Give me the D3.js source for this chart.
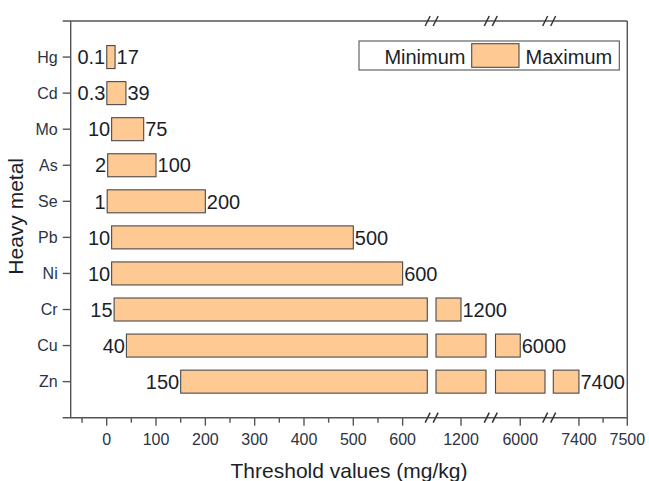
<!DOCTYPE html>
<html>
<head>
<meta charset="utf-8">
<script src="https://cdn.jsdelivr.net/npm/d3@7/dist/d3.min.js"></script>
<style>
  html, body { margin: 0; padding: 0; background: #fff; }
  svg { display: block; font-family: "Liberation Sans", Arial, sans-serif; }
</style>
</head>
<body>
<svg id="chart" width="649" height="481"></svg>
<script>
// ---------------- data ----------------
const metals = ["Hg", "Cd", "Mo", "As", "Se", "Pb", "Ni", "Cr", "Cu", "Zn"];
const minValues = [0.1, 0.3, 10, 2, 1, 10, 10, 15, 40, 150];
const maxValues = [17, 39, 75, 100, 200, 500, 600, 1200, 6000, 7400];
const minLabels = ["0.1", "0.3", "10", "2", "1", "10", "10", "15", "40", "150"];
const maxLabels = ["17", "39", "75", "100", "200", "500", "600", "1200", "6000", "7400"];

// broken x axis: domain of each visible segment
const segmentDomains = [[-75, 650], [1150, 1250], [5950, 6050], [7347, 7500]];
const xMajorTicks = [0, 100, 200, 300, 400, 500, 600, 1200, 6000, 7400, 7500];
const xMinorTicks = [-50, 50, 150, 250, 350, 450, 550, 7450];

const xTitle = "Threshold values (mg/kg)";
const yTitle = "Heavy metal";
const legendLabels = ["Minimum", "Maximum"];

// ---------------- layout ----------------
const svg = d3.select("#chart");
const plot = { left: 70.7, right: 627.3, top: 21, bottom: 417.7 };
const segmentRanges = [[69.7, 427.3], [436, 486], [495.5, 545], [553.3, 627.3]];

const frameColor = "#555";
const barFill = "#FFC994";
const barStroke = "#4a4a4a";
const textColor = "#1b1f2a";
const tickTextColor = "#2c3444";

const segScales = segmentDomains.map((d, i) =>
  d3.scaleLinear().domain(d).range(segmentRanges[i]));

function xPos(v) {
  for (const s of segScales) {
    const [a, b] = s.domain();
    if (v >= a && v <= b) return s(v);
  }
  return null;
}

const y = d3.scalePoint().domain(metals).range([plot.top, plot.bottom]).padding(1);
const barH = 23;

// ---------------- bars ----------------
const gBars = svg.append("g");
metals.forEach((m, i) => {
  const lo = minValues[i], hi = maxValues[i];
  segScales.forEach(s => {
    const [a, b] = s.domain();
    const p0 = Math.max(lo, a), p1 = Math.min(hi, b);
    if (p1 > p0) {
      gBars.append("rect")
        .attr("x", s(p0))
        .attr("y", y(m) - barH / 2)
        .attr("width", s(p1) - s(p0))
        .attr("height", barH)
        .attr("fill", barFill)
        .attr("stroke", barStroke)
        .attr("stroke-width", 1.1);
    }
  });
  // value labels
  svg.append("text")
    .attr("x", xPos(lo) - 1.5)
    .attr("y", y(m))
    .attr("dy", "0.36em")
    .attr("text-anchor", "end")
    .attr("font-size", 20)
    .attr("fill", textColor)
    .text(minLabels[i]);
  svg.append("text")
    .attr("x", xPos(hi) + 1.5)
    .attr("y", y(m))
    .attr("dy", "0.36em")
    .attr("text-anchor", "start")
    .attr("font-size", 20)
    .attr("fill", textColor)
    .text(maxLabels[i]);
});

// ---------------- frame ----------------
const gFrame = svg.append("g").attr("stroke", frameColor).attr("stroke-width", 1.4).attr("fill", "none");
gFrame.append("line").attr("x1", plot.left).attr("x2", plot.left).attr("y1", plot.top).attr("y2", plot.bottom);
gFrame.append("line").attr("x1", plot.right).attr("x2", plot.right).attr("y1", plot.top).attr("y2", plot.bottom);
gFrame.append("line").attr("x1", plot.left - 8).attr("x2", plot.right).attr("y1", plot.top).attr("y2", plot.top);
gFrame.append("line").attr("x1", plot.left - 8).attr("x2", plot.right).attr("y1", plot.bottom).attr("y2", plot.bottom);

// y ticks
metals.forEach(m => {
  gFrame.append("line").attr("x1", plot.left - 8).attr("x2", plot.left).attr("y1", y(m)).attr("y2", y(m));
});
svg.append("g").selectAll("text").data(metals).join("text")
  .attr("x", plot.left - 13)
  .attr("y", d => y(d))
  .attr("dy", "0.36em")
  .attr("text-anchor", "end")
  .attr("font-size", 16)
  .attr("fill", tickTextColor)
  .text(d => d);

// x ticks
xMajorTicks.forEach(t => {
  const px = xPos(t);
  gFrame.append("line").attr("x1", px).attr("x2", px).attr("y1", plot.bottom).attr("y2", plot.bottom + 8);
});
xMinorTicks.forEach(t => {
  const px = xPos(t);
  gFrame.append("line").attr("x1", px).attr("x2", px).attr("y1", plot.bottom).attr("y2", plot.bottom + 5);
});
svg.append("g").selectAll("text").data(xMajorTicks).join("text")
  .attr("x", d => xPos(d))
  .attr("y", plot.bottom + 27)
  .attr("text-anchor", "middle")
  .attr("font-size", 16)
  .attr("fill", tickTextColor)
  .text(d => String(d));

// break marks
const breakCenters = segmentRanges.slice(1).map((r, i) => (segmentRanges[i][1] + r[0]) / 2);
const gBreaks = svg.append("g").attr("stroke", "#333").attr("stroke-width", 1.5);
[plot.top, plot.bottom].forEach(yy => {
  breakCenters.forEach(cx => {
    [-4, 4].forEach(off => {
      gBreaks.append("line")
        .attr("x1", cx + off - 2.5).attr("y1", yy + 5)
        .attr("x2", cx + off + 2.5).attr("y2", yy - 5);
    });
  });
});

// axis titles
svg.append("text")
  .attr("x", (plot.left + plot.right) / 2)
  .attr("y", 477.5)
  .attr("text-anchor", "middle")
  .attr("font-size", 21)
  .attr("fill", textColor)
  .text(xTitle);
svg.append("text")
  .attr("transform", `translate(23,${(plot.top + plot.bottom) / 2 - 3}) rotate(-90)`)
  .attr("text-anchor", "middle")
  .attr("font-size", 21)
  .attr("fill", textColor)
  .text(yTitle);

// legend
const lg = svg.append("g");
lg.append("rect").attr("x", 359).attr("y", 41).attr("width", 260.3).attr("height", 29)
  .attr("fill", "#fff").attr("stroke", frameColor).attr("stroke-width", 1.1);
lg.append("rect").attr("x", 471.7).attr("y", 43.7).attr("width", 47.3).attr("height", 23.6)
  .attr("fill", barFill).attr("stroke", barStroke).attr("stroke-width", 1.1);
lg.append("text").attr("x", 465.5).attr("y", 64).attr("text-anchor", "end")
  .attr("font-size", 20).attr("fill", textColor).text(legendLabels[0]);
lg.append("text").attr("x", 525.5).attr("y", 64).attr("text-anchor", "start")
  .attr("font-size", 20).attr("fill", textColor).text(legendLabels[1]);
</script>
</body>
</html>
